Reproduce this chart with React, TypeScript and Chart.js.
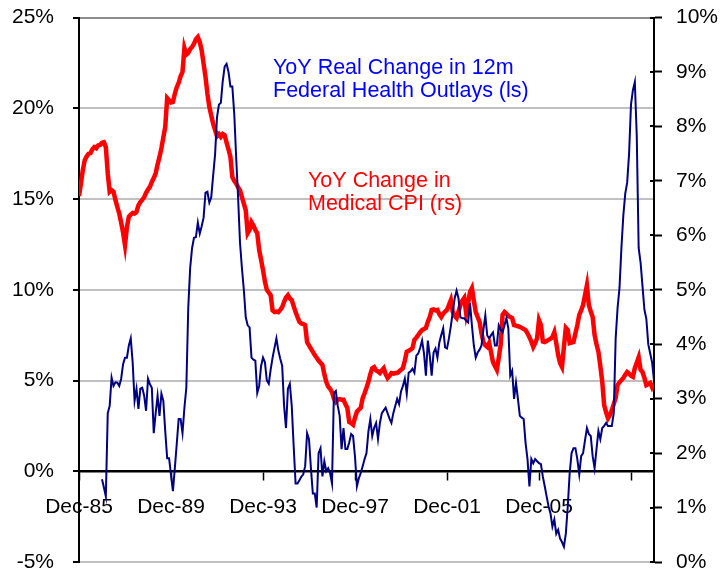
import React, { useEffect, useRef } from 'react';
import { Chart, registerables } from 'chart.js';

Chart.register(...registerables);

const FONT = '"Liberation Sans", Arial, Helvetica, sans-serif';

// x axis: months counted from Dec-85 (0) to Dec-10 (300); labelled every 48 months
const xTickLabels = ['Dec-85', 'Dec-89', 'Dec-93', 'Dec-97', 'Dec-01', 'Dec-05', ''];
const monthsPerTick = 48;
const lastMonth = 300;

const outlaysLabel = ['YoY Real Change in 12m', 'Federal Health Outlays (ls)'];
const cpiLabel = ['YoY Change in', 'Medical CPI (rs)'];

// YoY real change in 12m federal health outlays, % (left scale), monthly from Dec-85
const outlays: (number | null)[] = [
  null, null, null, null, null, null, null, null, null, null, null, null,
  -0.44, -0.9, -1.39, 3.2, 3.6, 5.16, 4.7, 4.9, 4.88, 4.7, 5.1, 5.9,
  6.26, 6.26, 6.93, 7.32, 5.99, 3.88, 4.55, 3.44, 4.55, 4.6, 4.16, 3.33,
  5.1, 4.8, 4.6, 2.1, 3.2, 4.16, 3.05, 4.27, 3.88, 2.2, 0.72, 0.72,
  -0.2, -1.1, 0.17, 1.5, 2.88, 2.88, 2.1, 3.5, 4.6, 9.0, 11.2, 12.3,
  12.86, 12.9, 13.7, 13.1, 13.5, 13.97, 15.35, 15.4, 14.8, 15.1, 16.3, 17.46,
  19.5, 20.2, 20.3, 21.5, 22.3, 22.45, 22.0, 21.2, 21.2, 19.7, 17.3, 15.1,
  12.6, 11.2, 10.0, 8.48, 8.04, 7.93, 6.26, 6.15, 6.1, 4.32, 4.7, 5.8,
  6.26, 6.0, 5.0, 4.82, 5.6, 6.26, 6.8, 7.32, 6.65, 6.2, 5.82, 3.6,
  2.38, 4.55, 4.82, 3.6, 1.39, -0.67, -0.67, -0.5, -0.3, -0.17, 0.28, 2.1,
  1.77, 0.17, -1.22, -1.22, -2.0, 1.0, 1.27, -0.28, 0.55, 0.0, 0.17, -0.1,
  -0.67, 4.32, 4.43, 3.6, 3.05, 1.22, 2.38, 1.22, 1.22, 1.6, 2.05, 1.94,
  0.8, -0.83, -0.39, -0.1, 0.28, 0.67, 1.0, 2.2, 2.88, 1.94, 2.4, 2.66,
  1.77, 2.66, 3.2, 3.35, 3.5, 3.2, 2.9, 2.66, 3.2, 3.6, 3.99, 3.7,
  4.4, 4.7, 5.1, 4.27, 5.43, 5.5, 5.65, 5.43, 6.37, 6.49, 6.8, 7.2,
  6.49, 5.27, 7.2, 6.37, 5.27, 6.54, 6.76, 6.26, 7.1, 7.5, 7.87, 6.82,
  6.76, 7.32, 8.0, 8.76, 9.53, 9.95, 9.53, 8.48, 8.43, 8.43, 8.3, 8.2,
  9.26, 8.04, 6.93, 6.26, 6.54, 6.7, 6.93, 7.8, 8.59, 7.48, 7.32, 7.5,
  7.65, 6.93, 6.93, 8.04, 7.8, 7.65, 8.04, 8.43, 7.87, 5.27, 5.54, 3.99,
  4.88, 3.99, 3.05, 2.95, 2.88, 1.55, 0.67, -0.83, 0.67, 0.44, 0.67, 0.55,
  0.45, 0.39, -0.3, -0.83, -1.4, -1.94, -2.33, -3.05, -2.66, -3.44, -3.22, -3.71,
  -3.9, -4.16, -3.44, -1.94, -0.11, 1.0, 1.27, 1.27, 0.67, -0.17, 0.83, 1.0,
  1.7, 2.38, 2.05, 1.94, 0.83, 0.17, 1.22, 2.22, 1.77, 2.38, 2.5, 2.66,
  2.49, 2.49, 2.49, 3.2, 7.32, 9.0, 10.1, 12.3, 14.1, 15.3, 15.9, 17.5,
  20.2, 21.0, 21.45, 18.5, 12.3, 11.5, 10.2, 8.9, 8.4, 7.0, 6.5, 6.0,
  5.0,
];

// YoY change in medical CPI, % (right scale), monthly from Dec-85
const medicalCpi: number[] = [
  6.72, 6.95, 7.2, 7.38, 7.45, 7.5, 7.51, 7.58, 7.62, 7.6, 7.65, 7.66,
  7.7, 7.71, 7.62, 7.14, 6.8, 6.83, 6.8, 6.65, 6.52, 6.4, 6.23, 6.05,
  5.82, 6.15, 6.34, 6.38, 6.41, 6.4, 6.43, 6.55, 6.61, 6.65, 6.7, 6.78,
  6.84, 6.89, 6.98, 7.05, 7.14, 7.3, 7.44, 7.6, 7.8, 7.99, 8.52, 8.48,
  8.44, 8.45, 8.6, 8.72, 8.8, 8.92, 9.0, 9.44, 9.32, 9.35, 9.42, 9.46,
  9.52, 9.6, 9.64, 9.55, 9.4, 9.15, 8.91, 8.6, 8.36, 8.2, 8.05, 7.93,
  7.82, 7.86, 7.81, 7.86, 7.84, 7.7, 7.58, 7.44, 7.07, 7.0, 6.95, 6.88,
  6.83, 6.7, 6.58, 6.46, 6.04, 6.1, 6.24, 6.18, 6.1, 6.04, 5.73, 5.55,
  5.36, 5.15, 5.0, 4.95, 4.9, 4.62, 4.59, 4.6, 4.59, 4.63, 4.68, 4.78,
  4.86, 4.9, 4.84, 4.81, 4.7, 4.59, 4.5, 4.41, 4.38, 4.37, 4.35, 4.04,
  3.98, 3.92, 3.86, 3.8, 3.75, 3.7, 3.66, 3.62, 3.45, 3.31, 3.22, 3.18,
  3.12, 3.0, 2.94, 2.98, 2.99, 2.98, 2.98, 2.9, 2.83, 2.57, 2.55, 2.52,
  2.65, 2.76, 2.8, 2.83, 3.01, 3.1, 3.2, 3.31, 3.45, 3.56, 3.58, 3.52,
  3.5, 3.47, 3.52, 3.56, 3.45, 3.38, 3.42, 3.47, 3.46, 3.47, 3.47, 3.5,
  3.53, 3.56, 3.7, 3.86, 3.88, 3.9, 3.93, 4.08, 4.12, 4.17, 4.22, 4.26,
  4.28, 4.3, 4.41, 4.5, 4.63, 4.64, 4.62, 4.63, 4.55, 4.5, 4.56, 4.6,
  4.63, 4.72, 4.81, 4.59, 4.52, 4.48, 4.6, 4.72, 4.8, 4.85, 4.57, 4.75,
  4.96, 5.03, 4.8, 4.59, 4.5, 4.41, 4.2, 4.04, 3.98, 3.95, 4.02, 3.85,
  3.67, 3.6, 3.53, 3.75, 3.99, 4.54, 4.59, 4.56, 4.52, 4.5, 4.48, 4.35,
  4.34, 4.33, 4.32, 4.3, 4.28, 4.26, 4.2, 4.13, 4.05, 3.95, 4.02, 4.11,
  4.44, 4.35, 4.05, 4.04, 4.06, 4.08, 4.1, 4.13, 4.22, 4.02, 3.8, 3.65,
  3.58, 3.95, 4.3, 4.26, 4.02, 4.03, 4.04, 4.2, 4.35, 4.54, 4.62, 4.72,
  4.9, 5.08, 4.72, 4.6, 4.5, 4.17, 4.0, 3.86, 3.6, 3.31, 2.88, 2.75,
  2.64, 2.7, 2.79, 2.9, 3.01, 3.25, 3.3, 3.34, 3.38, 3.44, 3.49, 3.46,
  3.42, 3.4, 3.56, 3.66, 3.76, 3.53, 3.49, 3.38, 3.25, 3.27, 3.29, 3.21,
  3.28,
];

const toPoints = (vals: (number | null)[]) => vals.map((v, i) => ({ x: i, y: v }));

const textPlugin = {
  id: 'seriesText',
  afterDraw(chart: any) {
    const ctx = chart.ctx;
    ctx.save();
    ctx.font = `21.5px ${FONT}`;
    ctx.textBaseline = 'alphabetic';
    ctx.textAlign = 'left';
    ctx.fillStyle = '#0000FF';
    ctx.fillText(outlaysLabel[0], 273, 74);
    ctx.fillText(outlaysLabel[1], 273, 96.5);
    ctx.fillStyle = '#FF0000';
    ctx.fillText(cpiLabel[0], 308, 187);
    ctx.fillText(cpiLabel[1], 308, 210);
    // inner half of right-axis tick marks
    const s = chart.scales.y1;
    ctx.strokeStyle = '#000';
    ctx.lineWidth = 2;
    s.ticks.forEach((t: any) => {
      const py = Math.round(s.getPixelForValue(t.value));
      ctx.beginPath();
      ctx.moveTo(chart.chartArea.right - 4, py);
      ctx.lineTo(chart.chartArea.right, py);
      ctx.stroke();
    });
    ctx.restore();
  },
};

export default function App() {
  const ref = useRef<HTMLCanvasElement>(null);
  useEffect(() => {
    if (!ref.current) return;
    const chart = new Chart(ref.current, {
      type: 'line',
      data: {
        datasets: [
          {
            label: outlaysLabel.join(' '),
            data: toPoints(outlays),
            yAxisID: 'y',
            borderColor: '#000080',
            borderWidth: 2,
            pointRadius: 0,
            tension: 0,
            fill: false,
          },
          {
            label: cpiLabel.join(' '),
            data: toPoints(medicalCpi),
            yAxisID: 'y1',
            borderColor: '#FF0000',
            borderWidth: 4.5,
            pointRadius: 0,
            tension: 0,
            fill: false,
          },
        ],
      } as any,
      options: {
        animation: false,
        responsive: true,
        maintainAspectRatio: false,
        devicePixelRatio: 1,
        layout: { padding: { top: 17.5, bottom: 11, left: 0, right: 0 } },
        plugins: { legend: { display: false }, tooltip: { enabled: false } },
        scales: {
          x: {
            type: 'linear',
            min: 0,
            max: lastMonth,
            position: { y: 0 } as any,
            grid: { drawOnChartArea: false, drawTicks: true, tickLength: 8, tickColor: '#000', tickWidth: 1.5 },
            border: { display: true, color: '#000', width: 1.5 },
            ticks: {
              stepSize: monthsPerTick,
              includeBounds: false,
              autoSkip: false,
              maxRotation: 0,
              padding: 15,
              color: '#000',
              font: { family: FONT, size: 21 },
              callback: (v: any) => {
                const k = Number(v) / monthsPerTick;
                return Number.isInteger(k) ? xTickLabels[k] ?? '' : '';
              },
            },
          },
          y: {
            type: 'linear',
            position: 'left',
            min: -5,
            max: 25,
            grid: {
              color: (c: any) => (c.tick && c.tick.value === 25 ? '#8c8c8c' : c.tick && c.tick.value === 0 ? '#000' : '#c0c0c0'),
              lineWidth: 2,
              tickColor: '#000',
              tickLength: 6,
              tickWidth: 2,
            },
            border: { color: '#000', width: 2 },
            ticks: {
              stepSize: 5,
              padding: 19,
              color: '#000',
              font: { family: FONT, size: 21, lineHeight: 1 },
              callback: (v: any) => `${v}%`,
            },
            afterFit: (s: any) => {
              s.width = 79;
              s.paddingTop = 0;
              s.paddingBottom = 0;
            },
          },
          y1: {
            type: 'linear',
            position: 'right',
            min: 0,
            max: 10,
            grid: { drawOnChartArea: false, tickColor: '#000', tickLength: 8, tickWidth: 2 },
            border: { color: '#000', width: 2 },
            ticks: {
              stepSize: 1,
              padding: 14,
              color: '#000',
              font: { family: FONT, size: 21, lineHeight: 1 },
              callback: (v: any) => `${v}%`,
            },
            afterFit: (s: any) => {
              s.width = 69;
              s.paddingTop = 0;
              s.paddingBottom = 0;
            },
          },
        },
      } as any,
      plugins: [textPlugin],
    });
    return () => chart.destroy();
  }, []);

  return (
    <div style={{ position: 'absolute', left: 0, top: 0, width: 723, height: 573, background: '#fff' }}>
      <canvas ref={ref} />
    </div>
  );
}
